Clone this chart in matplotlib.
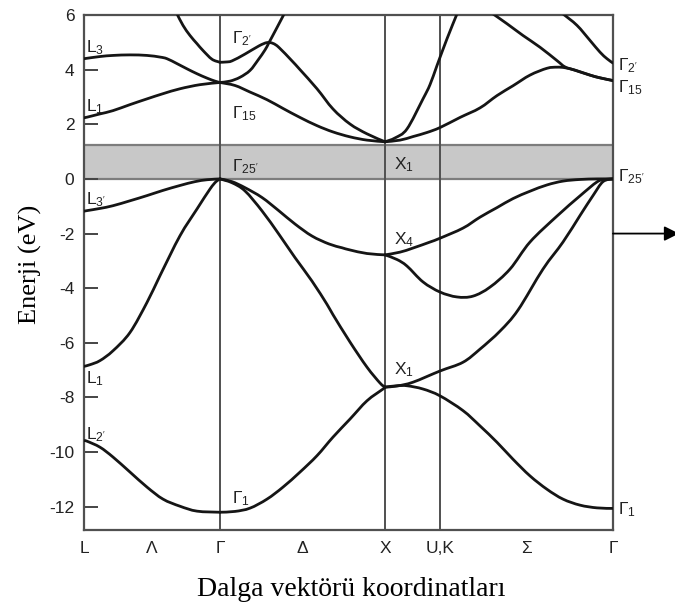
import matplotlib
matplotlib.use("Agg")
import matplotlib.pyplot as plt
from matplotlib.path import Path
from matplotlib.patches import PathPatch

plt.rcParams['font.family'] = ['Liberation Sans', 'DejaVu Sans']
plt.rcParams['mathtext.fontset'] = 'custom'
plt.rcParams['mathtext.rm'] = 'Liberation Sans'
plt.rcParams['mathtext.it'] = 'Liberation Sans'
plt.rcParams['axes.unicode_minus'] = False

# ---- path through the Brillouin zone (path-length units) ----
K_L, K_G, K_X, K_UK, K_G2 = 0, 136, 301, 356, 529
path_ticks = [0, 68, 136, 218, 301, 356, 442, 529]
path_labels = ['L', 'Λ', 'Γ', 'Δ', 'X', 'U,K', 'Σ', 'Γ']
energy_ticks = [6, 4, 2, 0, -2, -4, -6, -8, -10, -12]
gap_bottom, gap_top = 0.0, 1.24

# ---- bands along L -> Gamma : (k, E in eV) ----
lg_l2 = [(0, -9.58), (3, -9.60), (16, -9.82), (29, -10.18), (46, -10.73), (63, -11.28),
         (79, -11.72), (96, -11.98), (113, -12.16), (136, -12.20)]
lg_l1_low = [(0, -6.86), (6, -6.80), (16, -6.65), (29, -6.29), (46, -5.62), (63, -4.52),
             (76, -3.54), (96, -2.08), (113, -1.10), (126, -0.37), (132, -0.10), (136, 0.0)]
lg_l3p = [(0, -1.18), (3, -1.16), (16, -1.08), (29, -0.98), (46, -0.80), (63, -0.61),
          (79, -0.42), (96, -0.24), (111, -0.10), (123, -0.03), (136, 0.0)]
lg_l1_up = [(0, 2.24), (3, 2.26), (16, 2.38), (29, 2.50), (46, 2.72), (63, 2.93),
            (79, 3.12), (96, 3.30), (116, 3.45), (136, 3.53)]
lg_l3 = [(0, 4.40), (16, 4.48), (29, 4.52), (46, 4.54), (63, 4.52), (76, 4.46), (83, 4.40),
         (93, 4.22), (103, 4.03), (113, 3.85), (123, 3.69), (131, 3.58), (136, 3.53)]
lg_top = [(93, 6.04), (99, 5.62), (106, 5.25), (113, 4.95), (119, 4.70), (128, 4.38), (136, 4.27)]

# ---- bands along Gamma -> X ----
gx_g1 = [(136, -12.20), (151, -12.17), (166, -12.05), (183, -11.72), (199, -11.28),
         (216, -10.73), (233, -10.13), (249, -9.45), (266, -8.79), (283, -8.12),
         (299, -7.69), (301, -7.62)]
gx_steep = [(136, 0.0), (148, -0.14), (161, -0.44), (178, -1.17), (195, -2.03), (211, -2.88),
            (228, -3.74), (243, -4.59), (249, -4.97), (266, -5.97), (283, -6.89),
            (296, -7.47), (301, -7.62)]
gx_x4 = [(136, 0.0), (148, -0.10), (161, -0.32), (178, -0.68), (195, -1.17), (211, -1.65),
         (228, -2.09), (245, -2.38), (258, -2.52), (266, -2.60), (283, -2.73), (301, -2.78)]
gx_g2 = [(136, 4.27), (142, 4.28), (148, 4.32), (161, 4.57), (175, 4.87), (183, 4.99),
         (189, 4.96), (195, 4.81), (208, 4.32), (216, 4.00), (233, 3.30), (249, 2.56),
         (266, 2.01), (283, 1.65), (301, 1.36)]
gx_g15_up = [(136, 3.53), (146, 3.58), (156, 3.72), (166, 3.97), (174, 4.35), (181, 4.72),
             (185, 4.99), (193, 5.54), (200, 6.03)]
gx_g15_low = [(136, 3.53), (151, 3.42), (166, 3.18), (183, 2.90), (199, 2.58), (216, 2.25),
              (233, 1.95), (249, 1.72), (266, 1.54), (283, 1.42), (301, 1.36)]

# ---- bands along X -> U,K -> Gamma ----
xg_steep_up = [(301, 1.36), (311, 1.50), (323, 1.83), (339, 2.93), (346, 3.45), (353, 4.15),
               (363, 5.13), (373, 6.04)]
xg_g15 = [(301, 1.36), (316, 1.42), (329, 1.55), (343, 1.70), (356, 1.88), (376, 2.25),
          (396, 2.60), (413, 3.05), (429, 3.41), (446, 3.80), (463, 4.05), (473, 4.09),
          (481, 4.07), (491, 3.98), (506, 3.80), (516, 3.70), (529, 3.60)]
xg_top_a = [(409, 6.04), (423, 5.68), (439, 5.25), (456, 4.82), (473, 4.33), (481, 4.10),
            (491, 3.98), (506, 3.80), (516, 3.70), (529, 3.60)]
xg_top_b = [(479, 6.04), (493, 5.62), (506, 5.07), (516, 4.64), (523, 4.40), (529, 4.24)]
xg_x4_up = [(301, -2.78), (316, -2.68), (329, -2.53), (346, -2.31), (356, -2.17),
            (379, -1.80), (396, -1.40), (413, -1.05), (429, -0.72), (446, -0.45),
            (463, -0.22), (479, -0.08), (496, -0.02), (513, 0.0), (529, 0.0)]
xg_x4_low = [(301, -2.78), (313, -2.95), (323, -3.19), (339, -3.77), (356, -4.14),
             (373, -4.32), (389, -4.29), (406, -3.96), (426, -3.30), (446, -2.31),
             (473, -1.36), (496, -0.62), (513, -0.11), (521, -0.02), (529, 0.0)]
xg_x1_up = [(301, -7.62), (313, -7.58), (329, -7.44), (356, -7.03), (379, -6.71),
            (396, -6.23), (416, -5.57), (434, -4.80), (459, -3.30), (479, -2.31),
            (496, -1.34), (509, -0.61), (519, -0.10), (529, 0.0)]
xg_x1_low = [(301, -7.62), (313, -7.57), (323, -7.57), (339, -7.69), (356, -7.94),
             (379, -8.48), (396, -9.04), (413, -9.64), (429, -10.26), (446, -10.87),
             (463, -11.36), (479, -11.72), (496, -11.94), (513, -12.04), (529, -12.06)]

bands = [lg_l2, lg_l1_low, lg_l3p, lg_l1_up, lg_l3, lg_top,
         gx_g1, gx_steep, gx_x4, gx_g2, gx_g15_up, gx_g15_low,
         xg_steep_up, xg_g15, xg_top_a, xg_top_b, xg_x4_up, xg_x4_low, xg_x1_up, xg_x1_low]

# ---- symmetry-point labels: (text, k, E, vertical anchor) ----
inner_labels = [
    (r'L$_3$', 2, 4.47, 'bottom'), (r'L$_1$', 2, 2.30, 'bottom'),
    (r"L$_{3'}$", 2, -1.10, 'bottom'), (r'L$_1$', 2, -6.95, 'top'),
    (r"L$_{2'}$", 2, -9.70, 'bottom'),
    (r"$\Gamma_{2'}$", 148, 5.15, 'center'), (r'$\Gamma_{15}$', 148, 2.40, 'center'),
    (r"$\Gamma_{25'}$", 148, 0.45, 'center'), (r'$\Gamma_1$', 148, -11.72, 'center'),
    (r'X$_1$', 310, 0.52, 'center'), (r'X$_4$', 310, -2.22, 'center'),
    (r'X$_1$', 310, -6.98, 'center'),
]
outer_labels = [
    (r"$\Gamma_{2'}$", 534, 4.15), (r'$\Gamma_{15}$', 534, 3.35),
    (r"$\Gamma_{25'}$", 534, 0.08), (r'$\Gamma_1$', 534, -12.1),
]
arrow_energy = -2.0


def smooth_path(points):
    """Cubic Bezier path passing through every point (Catmull-Rom tangents)."""
    pts = [points[0]] + list(points) + [points[-1]]
    verts = [points[0]]
    codes = [Path.MOVETO]
    for i in range(1, len(pts) - 2):
        p0, p1, p2, p3 = pts[i - 1], pts[i], pts[i + 1], pts[i + 2]
        c1 = (p1[0] + (p2[0] - p0[0]) / 6.0, p1[1] + (p2[1] - p0[1]) / 6.0)
        c2 = (p2[0] - (p3[0] - p1[0]) / 6.0, p2[1] - (p3[1] - p1[1]) / 6.0)
        verts += [c1, c2, p2]
        codes += [Path.CURVE4, Path.CURVE4, Path.CURVE4]
    return Path(verts, codes)


fig = plt.figure(figsize=(6.75, 6.06), dpi=100)
ax = fig.add_axes([84 / 675, 1 - 530 / 606, 529 / 675, 515 / 606])
ax.set_xlim(K_L, K_G2)
ax.set_ylim(-12.85, 6.0)

# forbidden gap
ax.axhspan(gap_bottom, gap_top, facecolor='#c8c8c8', edgecolor='none', zorder=1)
for e in (gap_bottom, gap_top):
    ax.axhline(e, color='#7d7d7d', lw=1.6, zorder=1.5)

# symmetry-point verticals
for k in (K_G, K_X, K_UK):
    ax.axvline(k, color='#505050', lw=1.4, zorder=2)

for band in bands:
    ax.add_patch(PathPatch(smooth_path(band), facecolor='none', edgecolor='#151515',
                           lw=2.0, joinstyle='round', capstyle='round', zorder=3))

for txt, k, e, va in inner_labels:
    ax.text(k, e, txt, fontsize=12.5, ha='left', va=va, color='#222222', zorder=4)
for txt, k, e in outer_labels:
    ax.text(k, e, txt, fontsize=12.5, ha='left', va='center', color='#222222',
            clip_on=False, zorder=4)

ax.annotate('', xy=(K_G2 + 66, arrow_energy), xytext=(K_G2, arrow_energy),
            annotation_clip=False,
            arrowprops=dict(arrowstyle='-|>', mutation_scale=22, color='black', lw=1.3,
                            shrinkA=0, shrinkB=0))

ax.set_yticks(energy_ticks)
ax.set_yticklabels([str(v) for v in energy_ticks], fontsize=12.5, color='#222222')
ax.tick_params(axis='y', direction='in', length=10, width=1.4, color='#444444', pad=7)
ax.set_xticks(path_ticks)
ax.set_xticklabels(path_labels, fontsize=12.5, color='#222222')
ax.tick_params(axis='x', length=0, pad=8)

for sp in ax.spines.values():
    sp.set_color('#505050')
    sp.set_linewidth(1.6)

fig.text(30 / 675, 1 - 264 / 606, 'Enerji (eV)', rotation=90, ha='center', va='center',
         fontsize=19, family=['Liberation Serif', 'DejaVu Serif'])
fig.text(351 / 675, 1 - 590 / 606, 'Dalga vektörü koordinatları', ha='center', va='center',
         fontsize=20, family=['Liberation Serif', 'DejaVu Serif'])

fig.savefig('out.png', dpi=100, facecolor='white')
